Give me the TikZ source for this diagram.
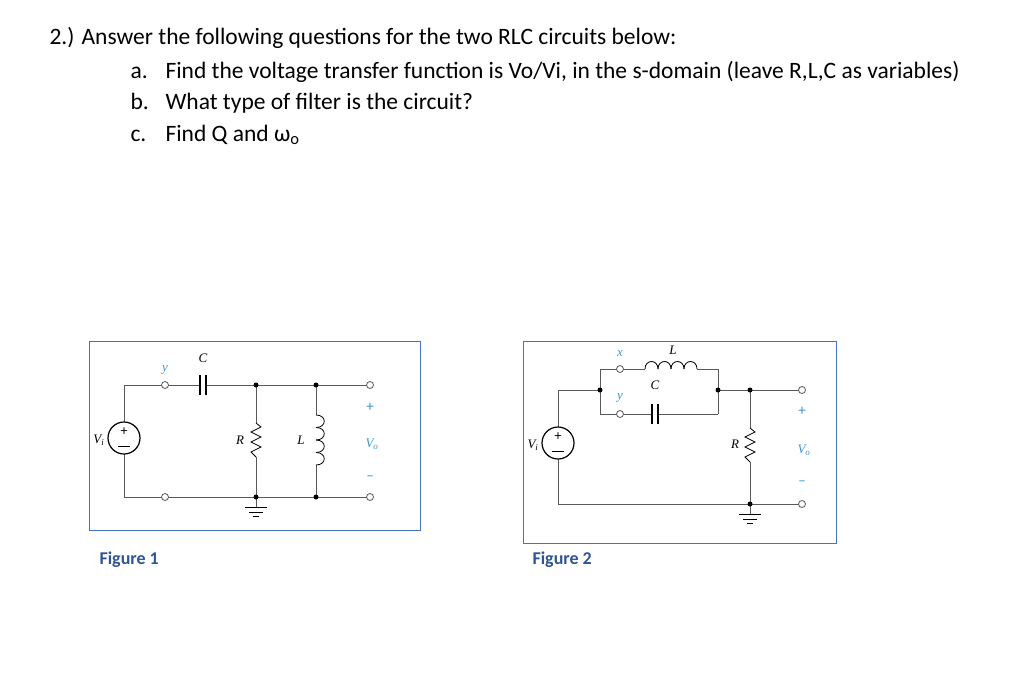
\documentclass[tikz,border=0pt]{standalone}
\usepackage{fontspec}
\setmainfont{Carlito}
\newfontfamily\cktfont{Liberation Serif}
\definecolor{boxblue}{RGB}{68,114,196}
\definecolor{lblblue}{RGB}{60,150,210}
\definecolor{figblue}{RGB}{47,84,150}
\begin{document}
\begin{tikzpicture}
	[x=1pt,y=-1pt,
	wire/.style={gray!70!black,thick},
	frame/.style={draw=boxblue,thick},
	term/.style={circle,draw=gray!70!black,thick,fill=white,inner sep=0pt,minimum size=7pt},
	dot/.style={circle,fill=black,inner sep=0pt,minimum size=5pt},
	src/.style={circle,draw=black,very thick,fill=white,inner sep=0pt,minimum size=32pt},
	part/.style={font=\cktfont\itshape\fontsize{13}{13}\selectfont},
	blu/.style={part,text=lblblue},
	sign/.style={text=lblblue,font=\fontsize{15}{15}\selectfont},
	head/.style={font=\fontsize{23.5}{28}\selectfont,anchor=base west},
	figlbl/.style={font=\bfseries\fontsize{18}{20}\selectfont,text=figblue,anchor=base west}]

	\useasboundingbox (0,0) rectangle (1024,677);

	% question text
	\node[head] (q) at (46,45) {2.) Answer the following questions for the two RLC circuits below:};
	\node[head] (qa) at (127,78) {a.};
	\node[head] (ta) at (162,78) {Find the voltage transfer function is Vo/Vi, in the s-domain (leave R,L,C as variables)};
	\node[head] (qb) at (127,109) {b.};
	\node[head] (tb) at (162,109) {What type of filter is the circuit?};
	\node[head] (qc) at (127,141) {c.};
	\node[head] (tc) at (162,141) {Find Q and ω\textsubscript{o}};

	% ---- Figure 1 ----
	\draw[frame] (89,341) rectangle (420,530);
	\draw[wire] (124,385) -- (370,385);
	\draw[wire] (124,497) -- (370,497);
	\draw[wire] (124,385) -- (124,497);
	\draw[wire] (256,385) -- (256,497) (316,385) -- (316,497);
	\node[src] (vs1) at (124,438) {};
	\node at (124,432) {\fontsize{14}{14}\selectfont +};
	\draw (118,446) -- (130,446);
	\node[part,anchor=east] at (108,440) {V\textsubscript{\itshape i}};
	% capacitor
	\fill[white] (200,375) rectangle (206,395);
	\draw[black,very thick] (200,375) -- (200,395) (206,375) -- (206,395);
	\node[part] at (203,358) {C};
	% resistor
	\draw[white,line width=3pt] (256,423) -- (256,457);
	\draw[black,thick] (256,423) -- (261,427) -- (251,432) -- (261,437) -- (251,442) -- (261,447) -- (251,452) -- (256,457);
	\node[part] at (240,440) {R};
	% inductor
	\draw[white,line width=3pt] (316,415) -- (316,465);
	\foreach \k in {0,...,3}
		\draw[black,thick] (316,415+12.5*\k) .. controls (327,415+12.5*\k) and (327,427.5+12.5*\k) .. (316,427.5+12.5*\k);
	\node[part] at (301,440) {L};
	% ground
	\draw[wire] (256,497) -- (256,507);
	\draw[black,thick] (245,507) -- (267,507) (249,512) -- (263,512) (253,516) -- (259,516);
	\node[dot] at (256,385) {}; \node[dot] at (316,385) {};
	\node[dot] at (256,497) {}; \node[dot] at (316,497) {};
	\node[term] (y1) at (165,385) {}; \node[term] at (165,497) {};
	\node[term] (o1) at (370,385) {}; \node[term] at (370,497) {};
	\node[blu] at (165,370) {y};
	\node[sign] at (370,407) {+};
	\node[blu] at (372,444) {V\textsubscript{o}};
	\node[sign] at (370,478) {–};
	\node[figlbl] at (96,564) {Figure 1};

	% ---- Figure 2 ----
	\draw[frame] (523,341) rectangle (836,543);
	\draw[wire] (558,390) -- (600,390) (718,390) -- (802,390);
	\draw[wire] (558,390) -- (558,504) -- (802,504);
	\draw[wire] (600,369) -- (600,414) (718,369) -- (718,414);
	\draw[wire] (600,369) -- (718,369) (600,414) -- (718,414);
	\draw[wire] (750,390) -- (750,504);
	\node[src] (vs2) at (558,443) {};
	\node at (558,437) {\fontsize{14}{14}\selectfont +};
	\draw (552,451) -- (564,451);
	\node[part,anchor=east] at (542,445) {V\textsubscript{\itshape i}};
	% inductor
	\draw[white,line width=3pt] (645,369) -- (697,369);
	\foreach \k in {0,...,3}
		\draw[black,thick] (645+13*\k,369) .. controls (645+13*\k,359) and (658+13*\k,359) .. (658+13*\k,369);
	\node[part] at (673,350) {L};
	% capacitor
	\fill[white] (652,404) rectangle (658,424);
	\draw[black,very thick] (652,404) -- (652,424) (658,404) -- (658,424);
	\node[part] at (655,385) {C};
	% resistor
	\draw[white,line width=3pt] (750,428) -- (750,462);
	\draw[black,thick] (750,428) -- (755,432) -- (745,437) -- (755,442) -- (745,447) -- (755,452) -- (745,457) -- (750,462);
	\node[part] at (735,444) {R};
	% ground
	\draw[wire] (750,504) -- (750,514);
	\draw[black,thick] (739,514) -- (761,514) (743,519) -- (757,519) (747,523) -- (753,523);
	\node[dot] at (600,390) {}; \node[dot] at (718,390) {};
	\node[dot] at (750,390) {}; \node[dot] at (750,504) {};
	\node[term] (x2) at (620,369) {}; \node[term] (y2) at (620,414) {};
	\node[term] (o2) at (802,390) {}; \node[term] at (802,504) {};
	\node[blu] at (620,354) {x};
	\node[blu] at (620,398) {y};
	\node[sign] at (802,411) {+};
	\node[blu] at (804,450) {V\textsubscript{o}};
	\node[sign] at (802,483) {–};
	\node[figlbl] at (529,564) {Figure 2};
\end{tikzpicture}
\end{document}
